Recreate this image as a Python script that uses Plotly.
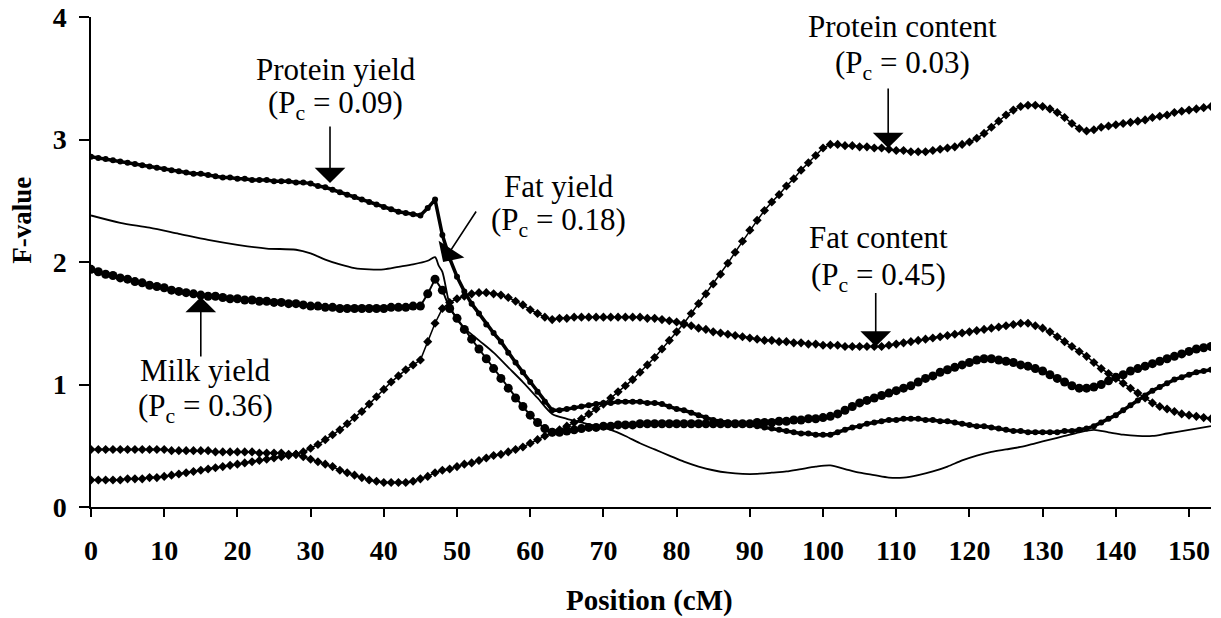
import plotly.graph_objects as go

# position along the chromosome (cM), one value every cM
positions = list(range(0, 154))

protein_yield = [
    2.86, 2.85, 2.84, 2.83, 2.82, 2.81, 2.80, 2.79, 2.78, 2.77,
    2.76, 2.75, 2.74, 2.73, 2.72, 2.72, 2.71, 2.70, 2.69, 2.69,
    2.68, 2.68, 2.67, 2.67, 2.67, 2.66, 2.66, 2.66, 2.65, 2.65,
    2.64, 2.62, 2.61, 2.59, 2.57, 2.55, 2.53, 2.51, 2.49, 2.47,
    2.45, 2.43, 2.41, 2.40, 2.39, 2.38, 2.44, 2.51, 2.22, 2.03,
    1.88, 1.76, 1.66, 1.58, 1.49, 1.42, 1.35, 1.26, 1.18, 1.10,
    1.02, 0.94, 0.86, 0.79, 0.79, 0.80, 0.81, 0.82, 0.83, 0.84,
    0.85, 0.85, 0.86, 0.86, 0.86, 0.86, 0.85, 0.85, 0.84, 0.82,
    0.80, 0.79, 0.77, 0.75, 0.73, 0.71, 0.70, 0.69, 0.68, 0.68,
    0.67, 0.66, 0.65, 0.64, 0.63, 0.62, 0.61, 0.60, 0.60, 0.59,
    0.59, 0.59, 0.61, 0.63, 0.65, 0.66, 0.68, 0.69, 0.70, 0.71,
    0.71, 0.72, 0.72, 0.72, 0.71, 0.71, 0.70, 0.70, 0.69, 0.68,
    0.67, 0.66, 0.66, 0.65, 0.64, 0.63, 0.62, 0.62, 0.61, 0.61,
    0.61, 0.61, 0.61, 0.62, 0.62, 0.63, 0.64, 0.66, 0.69, 0.72,
    0.75, 0.79, 0.83, 0.87, 0.91, 0.95, 0.98, 1.01, 1.04, 1.06,
    1.08, 1.10, 1.11, 1.12,
]

milk_yield = [
    1.94, 1.92, 1.90, 1.89, 1.87, 1.86, 1.84, 1.83, 1.81, 1.80,
    1.79, 1.77, 1.76, 1.75, 1.74, 1.73, 1.72, 1.72, 1.71, 1.70,
    1.70, 1.69, 1.69, 1.68, 1.68, 1.67, 1.67, 1.66, 1.66, 1.65,
    1.64, 1.64, 1.63, 1.63, 1.62, 1.62, 1.62, 1.62, 1.62, 1.62,
    1.62, 1.63, 1.63, 1.63, 1.64, 1.64, 1.74, 1.86, 1.77, 1.62,
    1.54, 1.45, 1.37, 1.29, 1.21, 1.13, 1.05, 0.97, 0.89, 0.82,
    0.75, 0.69, 0.64, 0.61, 0.61, 0.62, 0.63, 0.64, 0.65, 0.65,
    0.66, 0.66, 0.67, 0.67, 0.67, 0.68, 0.68, 0.68, 0.68, 0.68,
    0.68, 0.68, 0.68, 0.68, 0.68, 0.68, 0.68, 0.68, 0.68, 0.68,
    0.68, 0.69, 0.69, 0.69, 0.70, 0.70, 0.71, 0.71, 0.72, 0.72,
    0.73, 0.74, 0.76, 0.79, 0.82, 0.85, 0.87, 0.89, 0.91, 0.93,
    0.95, 0.97, 0.99, 1.02, 1.05, 1.07, 1.10, 1.12, 1.14, 1.16,
    1.18, 1.20, 1.21, 1.21, 1.20, 1.19, 1.18, 1.16, 1.15, 1.13,
    1.11, 1.08, 1.05, 1.02, 0.99, 0.97, 0.97, 0.98, 1.00, 1.03,
    1.06, 1.08, 1.11, 1.13, 1.15, 1.17, 1.19, 1.21, 1.23, 1.25,
    1.27, 1.29, 1.30, 1.31,
]

protein_content = [
    0.47, 0.47, 0.47, 0.47, 0.47, 0.47, 0.47, 0.47, 0.47, 0.47,
    0.47, 0.46, 0.46, 0.46, 0.46, 0.46, 0.46, 0.45, 0.45, 0.45,
    0.45, 0.45, 0.45, 0.44, 0.44, 0.44, 0.44, 0.43, 0.43, 0.41,
    0.39, 0.37, 0.35, 0.33, 0.30, 0.28, 0.26, 0.24, 0.22, 0.21,
    0.20, 0.20, 0.20, 0.20, 0.21, 0.23, 0.25, 0.28, 0.30, 0.31,
    0.33, 0.35, 0.36, 0.38, 0.40, 0.42, 0.43, 0.45, 0.47, 0.49,
    0.52, 0.55, 0.58, 0.61, 0.63, 0.66, 0.69, 0.72, 0.76, 0.80,
    0.84, 0.89, 0.94, 0.99, 1.04, 1.10, 1.16, 1.22, 1.29, 1.36,
    1.43, 1.50, 1.58, 1.66, 1.74, 1.82, 1.90, 1.99, 2.08, 2.17,
    2.26, 2.34, 2.42, 2.49, 2.55, 2.62, 2.68, 2.75, 2.81, 2.87,
    2.93, 2.96, 2.96, 2.95, 2.95, 2.94, 2.94, 2.93, 2.93, 2.92,
    2.91, 2.91, 2.90, 2.90, 2.90, 2.91, 2.92, 2.93, 2.94, 2.96,
    2.98, 3.01, 3.05, 3.10, 3.15, 3.20, 3.24, 3.27, 3.28, 3.28,
    3.27, 3.25, 3.22, 3.18, 3.13, 3.09, 3.07, 3.08, 3.10, 3.11,
    3.12, 3.13, 3.14, 3.15, 3.16, 3.18, 3.19, 3.20, 3.22, 3.23,
    3.24, 3.25, 3.26, 3.27,
]

fat_content = [
    0.22, 0.22, 0.22, 0.22, 0.22, 0.23, 0.23, 0.23, 0.24, 0.24,
    0.25, 0.26, 0.27, 0.28, 0.29, 0.30, 0.31, 0.32, 0.33, 0.34,
    0.35, 0.36, 0.37, 0.38, 0.39, 0.40, 0.41, 0.42, 0.43, 0.45,
    0.48, 0.51, 0.55, 0.59, 0.63, 0.68, 0.73, 0.78, 0.84, 0.90,
    0.96, 1.02, 1.07, 1.12, 1.16, 1.20, 1.35, 1.50, 1.62, 1.67,
    1.70, 1.72, 1.74, 1.75, 1.75, 1.74, 1.73, 1.71, 1.68, 1.65,
    1.61, 1.58, 1.55, 1.53, 1.54, 1.54, 1.55, 1.55, 1.55, 1.55,
    1.55, 1.55, 1.55, 1.55, 1.55, 1.55, 1.54, 1.54, 1.53, 1.52,
    1.51, 1.49, 1.48, 1.46, 1.45, 1.43, 1.42, 1.41, 1.40, 1.39,
    1.38, 1.37, 1.36, 1.36, 1.35, 1.35, 1.34, 1.34, 1.33, 1.33,
    1.32, 1.32, 1.32, 1.31, 1.31, 1.31, 1.31, 1.31, 1.31, 1.32,
    1.33, 1.34, 1.35, 1.36, 1.37, 1.38, 1.39, 1.40, 1.41, 1.42,
    1.43, 1.44, 1.45, 1.46, 1.47, 1.48, 1.49, 1.50, 1.50, 1.48,
    1.46, 1.43, 1.39, 1.35, 1.31, 1.27, 1.23, 1.18, 1.13, 1.09,
    1.05, 1.01, 0.97, 0.93, 0.89, 0.85, 0.82, 0.80, 0.78, 0.76,
    0.75, 0.74, 0.73, 0.72,
]

# fat yield is drawn as a plain line, read at coarser positions
fat_yield_pos = [
    0, 4, 8, 12, 16, 20, 24, 28, 30, 32, 34, 36, 38, 40, 42, 44, 46,
    47, 47.5, 48, 49, 50, 51, 53, 55, 57, 59, 61, 63, 65, 67, 69, 71,
    73, 75, 77, 79, 81, 83, 85, 87, 89, 91, 93, 95, 97, 99, 101, 103,
    105, 107, 109, 111, 113, 115, 117, 119, 121, 123, 125, 127, 129,
    131, 133, 135, 137, 139, 141, 143, 145, 147, 149, 151, 153,
]
fat_yield = [
    2.38, 2.32, 2.28, 2.23, 2.18, 2.14, 2.11, 2.10, 2.07, 2.02, 1.98,
    1.95, 1.94, 1.94, 1.96, 1.98, 2.01, 2.04, 1.97, 1.92, 1.65, 1.53,
    1.46, 1.36, 1.26, 1.14, 1.02, 0.89, 0.76, 0.72, 0.69, 0.66, 0.63,
    0.58, 0.52, 0.47, 0.42, 0.37, 0.33, 0.30, 0.28, 0.27, 0.27, 0.28,
    0.29, 0.31, 0.33, 0.34, 0.31, 0.28, 0.26, 0.24, 0.24, 0.26, 0.29,
    0.33, 0.38, 0.42, 0.45, 0.47, 0.49, 0.52, 0.55, 0.58, 0.61, 0.63,
    0.61, 0.59, 0.58, 0.58, 0.60, 0.62, 0.64, 0.66,
]

serif = "Liberation Serif, Times New Roman, serif"

fig = go.Figure()

fig.add_trace(go.Scatter(
    x=positions, y=protein_content, mode="lines+markers",
    line=dict(color="black", width=1.5),
    marker=dict(symbol="diamond", size=7, color="black"),
    name="Protein content"))
fig.add_trace(go.Scatter(
    x=positions, y=fat_content, mode="lines+markers",
    line=dict(color="black", width=1.5),
    marker=dict(symbol="diamond", size=7, color="black"),
    name="Fat content"))
fig.add_trace(go.Scatter(
    x=fat_yield_pos, y=fat_yield, mode="lines",
    line=dict(color="black", width=1.8, shape="spline", smoothing=0.8),
    name="Fat yield"))
fig.add_trace(go.Scatter(
    x=positions, y=milk_yield, mode="lines+markers",
    line=dict(color="black", width=2),
    marker=dict(symbol="circle", size=9, color="black"),
    name="Milk yield"))
fig.add_trace(go.Scatter(
    x=positions, y=protein_yield, mode="lines+markers",
    line=dict(color="black", width=3.5),
    marker=dict(symbol="circle", size=6, color="black"),
    name="Protein yield"))

# labels: (name line, P_c line, x, y of the name, y of the P_c line)
labels = [
    ("Protein yield", "0.09", 33.4, 3.57, 3.28),
    ("Fat yield", "0.18", 63.9, 2.613, 2.327),
    ("Protein content", "0.03", 110.8, 3.922, 3.611),
    ("Fat content", "0.45", 107.6, 2.196, 1.877),
    ("Milk yield", "0.36", 15.6, 1.118, 0.807),
]
for name, pc, lx, ly1, ly2 in labels:
    fig.add_annotation(x=lx, y=ly1, text=name, showarrow=False,
                       xanchor="center", yanchor="middle",
                       font=dict(family=serif, size=31, color="black"))
    fig.add_annotation(x=lx, y=ly2, text="(P<sub>c</sub> = " + pc + ")",
                       showarrow=False, xanchor="center", yanchor="middle",
                       font=dict(family=serif, size=31, color="black"))

# arrows: tip position and tail offset in pixels
arrows = [
    (32.65, 2.645, 0, -58),
    (48.1, 2.0, 34, -52),
    (108.9, 2.93, 0, -61),
    (107.2, 1.31, 0, -55),
    (15.0, 1.715, 0, 61),
]
for ax_x, ax_y, dx, dy in arrows:
    fig.add_annotation(x=ax_x, y=ax_y, ax=dx, ay=dy, text="",
                       showarrow=True, arrowhead=1, arrowsize=3.2,
                       arrowwidth=1.6, arrowcolor="black")

fig.add_annotation(xref="paper", yref="paper", x=0.499, y=-0.19,
                   xanchor="center", yanchor="middle",
                   text="<b>Position (cM)</b>", showarrow=False,
                   font=dict(family=serif, size=29, color="black"))
fig.add_annotation(xref="paper", yref="paper", x=-0.0616, y=0.584,
                   xanchor="center", yanchor="middle",
                   text="<b>F-value</b>", showarrow=False, textangle=-90,
                   font=dict(family=serif, size=27, color="black"))

fig.update_layout(
    width=1221, height=618,
    margin=dict(l=91, r=10, t=17, b=111, autoexpand=False),
    paper_bgcolor="white", plot_bgcolor="white",
    showlegend=False,
)
fig.update_xaxes(
    range=[0, 153], tickvals=list(range(0, 151, 10)),
    showgrid=False, zeroline=False, automargin=False,
    showline=True, linecolor="black", linewidth=1.5,
    ticks="outside", ticklen=8, tickcolor="black", tickwidth=1.5,
    ticklabelstandoff=10, ticklabeloverflow="allow",
    tickfont=dict(family=serif, size=28, color="black", weight="bold"),
)
fig.update_yaxes(
    range=[0, 4], tickvals=[0, 1, 2, 3, 4],
    showgrid=False, zeroline=False, automargin=False,
    showline=True, linecolor="black", linewidth=1.5,
    ticks="outside", ticklen=10, tickcolor="black", tickwidth=1.5,
    ticklabelstandoff=7, ticklabeloverflow="allow",
    tickfont=dict(family=serif, size=28, color="black", weight="bold"),
)

# drop the page's default body margin so the figure fills the window
fig.write_html("out.html", config={"displayModeBar": False},
               post_script="document.body.style.margin = '0px';")
